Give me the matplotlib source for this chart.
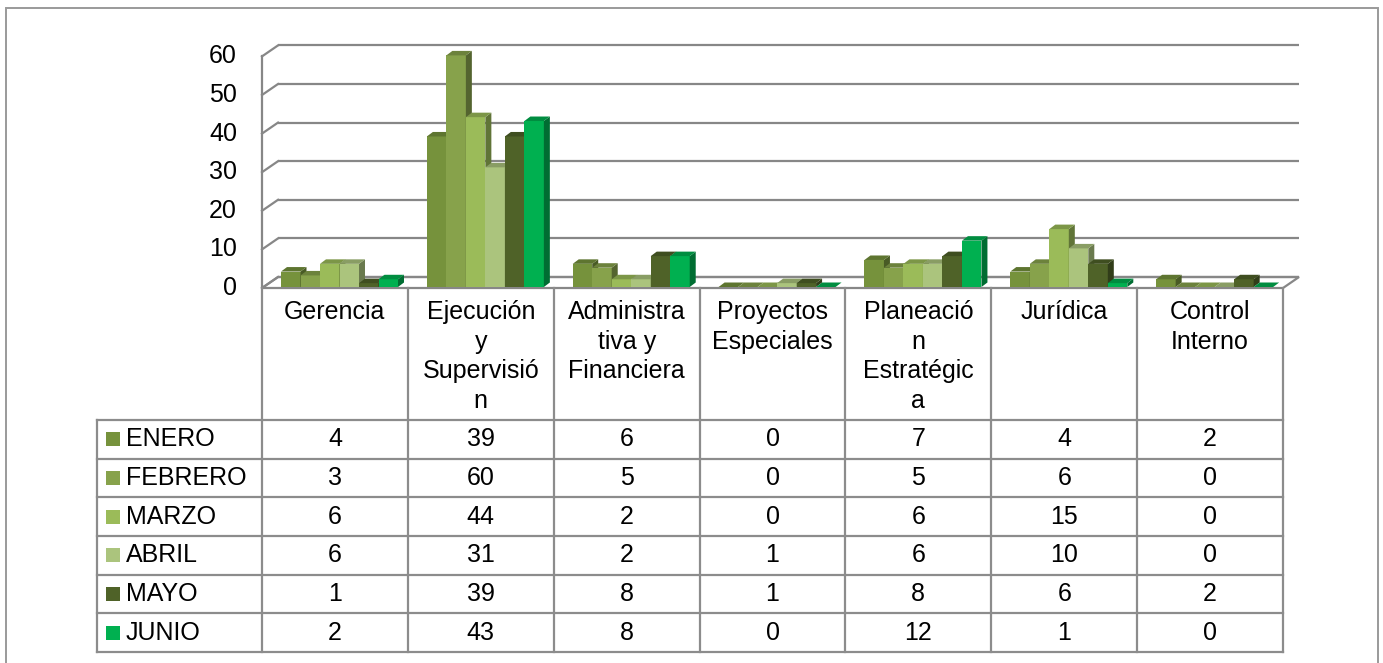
import matplotlib
matplotlib.use("Agg")
import matplotlib.pyplot as plt
from matplotlib.patches import Polygon, Rectangle
import numpy as np

# ---------------- data ----------------
categories = ["Gerencia", "Ejecución\ny\nSupervisió\nn", "Administra\ntiva y\nFinanciera",
              "Proyectos\nEspeciales", "Planeació\nn\nEstratégic\na", "Jurídica", "Control\nInterno"]
series_names = ["ENERO", "FEBRERO", "MARZO", "ABRIL", "MAYO", "JUNIO"]
enero   = [4, 39, 6, 0, 7, 4, 2]
febrero = [3, 60, 5, 0, 5, 6, 0]
marzo   = [6, 44, 2, 0, 6, 15, 0]
abril   = [6, 31, 2, 1, 6, 10, 0]
mayo    = [1, 39, 8, 1, 8, 6, 2]
junio   = [2, 43, 8, 0, 12, 1, 0]
series_values = [enero, febrero, marzo, abril, mayo, junio]
yticks = [0, 10, 20, 30, 40, 50, 60]
colors = ["#76923C", "#87A24B", "#9BBB59", "#ABC47D", "#4F6228", "#00B050"]

# ---------------- layout ----------------
W, H = 1383, 663
DPI = 100
UX = 145.86      # px per category
UY = 3.86        # px per value unit
X0, Y0 = 262, 288  # front-left corner of floor (px, from top)
FONT = "Liberation Sans"
FS = 18
GRID = "#878787"

plt.rcParams['font.family'] = [FONT, 'DejaVu Sans']

fig = plt.figure(figsize=(W / DPI, H / DPI), dpi=DPI)
fig.patch.set_facecolor("white")

# outer border
fig.add_artist(Rectangle((6 / W, -0.05), (1378 - 6) / W, (H - 8) / H + 0.05,
                         transform=fig.transFigure, fill=False, edgecolor="#9A9A9A", lw=1.4))

ncat = len(categories)
ax = fig.add_axes([X0 / W, (H - Y0) / H, 7.3 * UX / W, 70 * UY / H])
ax.set_xlim(0, 7.3)
ax.set_ylim(0, 70)
ax.axis("off")

DX, DY = 16 / UX, 11 / UY          # wall depth
BDX, BDY = 6 / UX, 4.5 / UY        # bar depth
BASE = 1 / UY

# floor
floor = Polygon([(0, 0), (ncat, 0), (ncat + DX, DY), (DX, DY)], closed=True,
                facecolor="white", edgecolor=GRID, lw=1.6, clip_on=False, zorder=1)
ax.add_patch(floor)
# gridlines + left wall
for v in yticks:
    ax.plot([DX, ncat + DX], [v + DY, v + DY], color=GRID, lw=1.6, clip_on=False, zorder=1,
            solid_capstyle="butt")
    ax.plot([0, DX], [v, v + DY], color=GRID, lw=1.6, clip_on=False, zorder=1)
    ax.text(-25 / UX, v, str(v), ha="right", va="center", fontsize=FS, color="black")
ax.plot([0, 0], [0, yticks[-1]], color=GRID, lw=1.6, clip_on=False, zorder=1)


def shade(c, f):
    r, g, b = matplotlib.colors.to_rgb(c)
    return (r * f, g * f, b * f)


bw = 19.5 / UX
start = 19 / UX
z = 3
for ci in range(ncat):
    for si, vals in enumerate(series_values):
        v = vals[ci]
        xl = ci + start + si * bw
        xr = xl + bw
        b = BASE
        t = BASE + v
        col = colors[si]
        if v > 0:
            ax.add_patch(Polygon([(xl, b), (xr, b), (xr, t), (xl, t)], closed=True,
                                 facecolor=col, edgecolor="none", clip_on=False, zorder=z))
            ax.add_patch(Polygon([(xr, b), (xr + BDX, b + BDY), (xr + BDX, t + BDY), (xr, t)],
                                 closed=True, facecolor=shade(col, 0.62), edgecolor="none",
                                 clip_on=False, zorder=z))
        ax.add_patch(Polygon([(xl, t), (xr, t), (xr + BDX, t + BDY), (xl + BDX, t + BDY)],
                             closed=True, facecolor=shade(col, 0.8), edgecolor="none",
                             clip_on=False, zorder=z))
        z += 1

# ---------------- data table ----------------
LEG_L = 97
ROW_H = 38.6
HEAD_H = 420 - Y0
TB = 652
tab = fig.add_axes([LEG_L / W, (H - TB) / H, (X0 + ncat * UX - LEG_L) / W, (TB - Y0) / H])
leg_w = (X0 - LEG_L) / UX
head = HEAD_H / ROW_H
nrow = len(series_names)
tab.set_xlim(-leg_w, ncat)
tab.set_ylim(head + nrow, 0)
tab.axis("off")

TL = "#8C8C8C"
# vertical lines
for i in range(ncat + 1):
    tab.plot([i, i], [0, head + nrow], color=TL, lw=1.6, clip_on=False)
tab.plot([-leg_w, -leg_w], [head, head + nrow], color=TL, lw=1.6, clip_on=False)
# horizontal lines
for r in range(nrow + 1):
    tab.plot([-leg_w, ncat], [head + r, head + r], color=TL, lw=1.6, clip_on=False)

# header text
for i, c in enumerate(categories):
    tab.text(i + 0.5, 12 / ROW_H, c, ha="center", va="top", fontsize=FS, linespacing=1.3,
             color="black")

# rows
for r, (name, vals) in enumerate(zip(series_names, series_values)):
    yc = head + r + 0.5
    tab.add_patch(Rectangle((-leg_w + 9 / UX, yc - 7 / ROW_H), 14 / UX, 14 / ROW_H,
                            facecolor=colors[r], edgecolor="none", clip_on=False))
    tab.text(-leg_w + 29 / UX, yc, name, ha="left", va="center", fontsize=FS, color="black")
    for i, v in enumerate(vals):
        tab.text(i + 0.5, yc, str(v), ha="center", va="center", fontsize=FS, color="black")

fig.savefig("out.png", dpi=DPI, facecolor="white")
